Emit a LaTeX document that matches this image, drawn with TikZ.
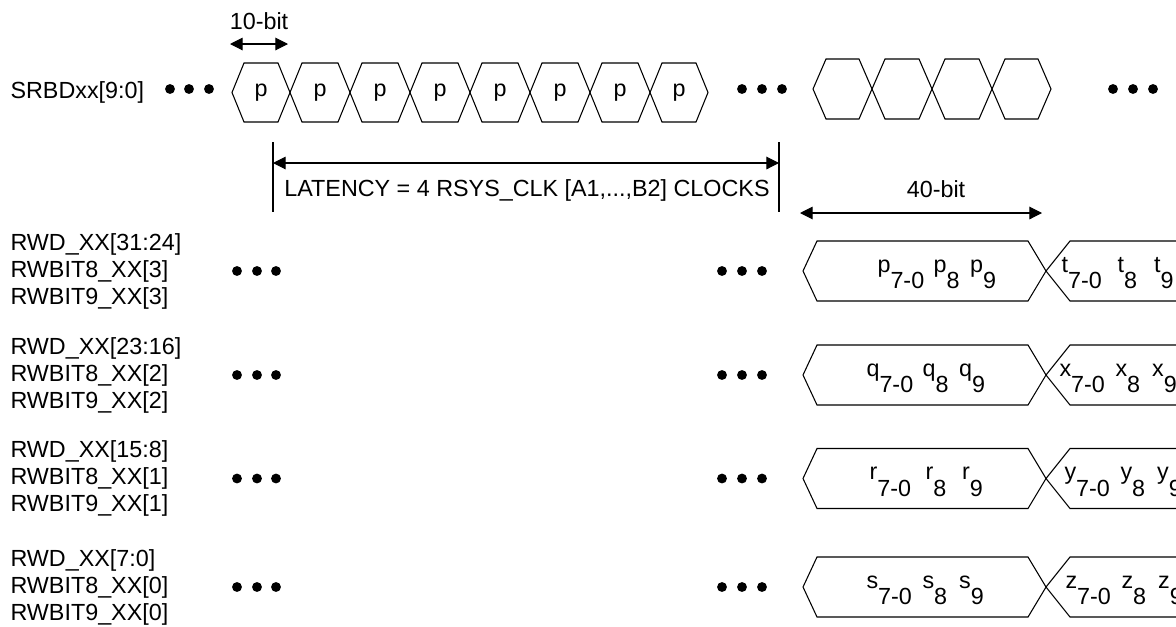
\documentclass[tikz,border=0pt]{standalone}
\usepackage{fontspec}
\setmainfont{Liberation Sans}
\usetikzlibrary{arrows.meta}
\newcommand\hexa[5]{% x1 x2 ymid half slant
  \draw (#1,#3) -- (#1+#5,#3-#4) -- (#2-#5,#3-#4) -- (#2,#3) -- (#2-#5,#3+#4) -- (#1+#5,#3+#4) -- cycle;}
\newcommand\bsub[2]{#1\raisebox{-0.71em}{#2}}
\newcommand\bitgrp[1]{\makebox[42pt][l]{\bsub{#1}{7-0}}\makebox[27.5pt][l]{\bsub{#1}{8}}\bsub{#1}{9}}
\begin{document}
\begin{tikzpicture}[x=0.75pt,y=-0.75pt, line width=0.8pt,
  lbl/.style={font=\fontsize{17.5}{20.25}\selectfont, inner sep=0pt},
  dim/.style={{Triangle[length=9.5pt,width=9.5pt]}-{Triangle[length=9.5pt,width=9.5pt]}}]
\useasboundingbox (0,0) rectangle (1176,626);
\clip (0,0) rectangle (1176,626);

% ---- top bus SRBDxx
\node[lbl, anchor=west] (srbd) at (10,92.5) {SRBDxx[9:0]};
\foreach \x in {170,189,209} \fill (\x,89) circle[radius=3.7pt];
\foreach \a/\b [count=\i] in {232/290,290/350,350/410,410/470,470/530,530/590,590/650,650/708}{
  \hexa{\a}{\b}{92.5}{29.5}{12}
  \node[lbl] (p\i) at ({(\a+\b)/2},92.5) {p};
}
\foreach \x in {742,762,782} \fill (\x,89) circle[radius=3.7pt];
\foreach \a/\b in {813/872,872/932,932/992,992/1051}{
  \hexa{\a}{\b}{89}{30}{13}
}
\foreach \x in {1113,1133,1153} \fill (\x,89) circle[radius=3.7pt];

% ---- 10-bit
\coordinate (b10l) at (230,44);
\coordinate (b10r) at (288,44);
\draw[dim] (b10l) -- (b10r);
\node[lbl] (b10) at (259,21) {10-bit};

% ---- latency
\coordinate (lt1) at (273,142); \coordinate (lb1) at (273,212);
\coordinate (lt2) at (779,142); \coordinate (lb2) at (779,212);
\draw (lt1) -- (lb1);
\draw (lt2) -- (lb2);
\coordinate (la) at (273,163); \coordinate (lb) at (779,163);
\draw[dim] (la) -- (lb);
\node[lbl] (lat) at (527,190) {LATENCY = 4 RSYS\_CLK [A1,...,B2] CLOCKS};

% ---- 40-bit
\coordinate (b40l) at (800,213);
\coordinate (b40r) at (1042,213);
\draw[dim] (b40l) -- (b40r);
\node[lbl] (b40) at (936,189) {40-bit};

% ---- rows
\foreach \m/\lab/\fa/\fx/\sa/\sx [count=\i] in {
  271/{RWD\_XX[31:24]\\RWBIT8\_XX[3]\\RWBIT9\_XX[3]}/p/877/t/1061,
  375/{RWD\_XX[23:16]\\RWBIT8\_XX[2]\\RWBIT9\_XX[2]}/q/866/x/1059,
  478.5/{RWD\_XX[15:8]\\RWBIT8\_XX[1]\\RWBIT9\_XX[1]}/r/869/y/1064,
  587/{RWD\_XX[7:0]\\RWBIT8\_XX[0]\\RWBIT9\_XX[0]}/s/866/z/1065}{
  \node[lbl, anchor=west, align=left] (row\i) at (10,\m) {\lab};
  \foreach \x in {237,257,276,722,742,762} \fill (\x,\m) circle[radius=3.7pt];
  \draw (803,\m) -- (817,\m-30) -- (1028,\m-30) -- (1046,\m) -- (1028,\m+30) -- (817,\m+30) -- cycle;
  \draw (1200,\m-30) -- (1070,\m-30) -- (1046,\m) -- (1070,\m+30) -- (1200,\m+30);
  \node[lbl, anchor=base west] (da\i) at (\fx,\m+1) {\bitgrp{\fa}};
  \node[lbl, anchor=base west] (db\i) at (\sx,\m+1) {\bitgrp{\sa}};
}
\end{tikzpicture}
\end{document}
